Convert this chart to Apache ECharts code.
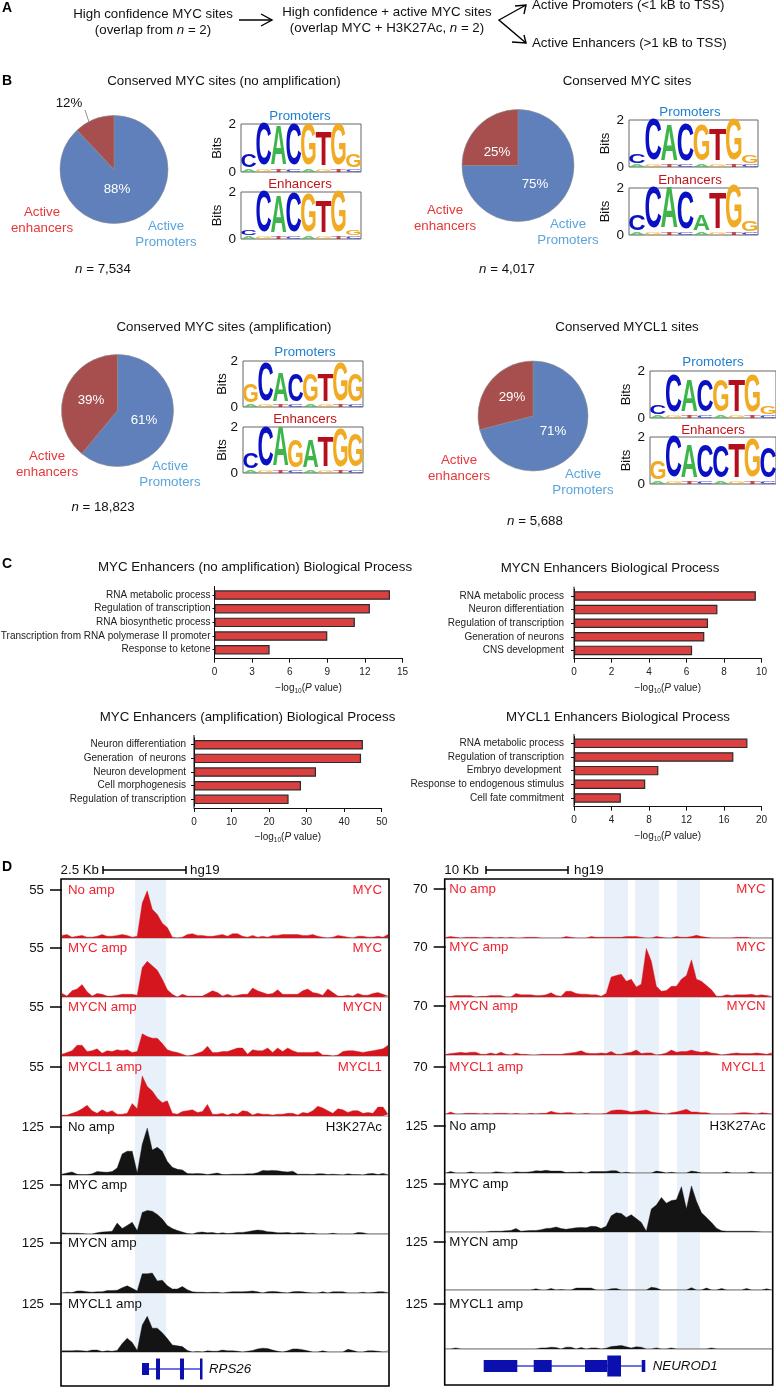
<!DOCTYPE html>
<html><head><meta charset="utf-8">
<style>html,body{margin:0;padding:0;background:#fff}#c{width:776px;height:1388px}</style>
<script src="https://cdn.jsdelivr.net/npm/echarts@6/dist/echarts.min.js"></script>
</head><body><div id="c"></div>
<script>
const FONT='"Liberation Sans",Arial,sans-serif';
// ---- Panel B: pies
const pieNames=['Active Promoters','Active enhancers'];
const pieA=[88,12], pieB=[75,25], pieC=[61,39], pieD=[71,29];
// ---- Panel B: sequence logos (letters and total bits per position)
const logoLetters=['CCACGTGG','CCACGTGG','CCACGTGG','CCACATGG','GCACGTGG','CCAGATGG','CCACGTGG','GCACCTGC'];
const logoBits=[
 [0.6,1.85,1.75,1.8,1.8,1.5,1.8,0.6],
 [0.22,1.85,1.7,1.8,1.75,1.45,1.85,0.25],
 [0.4,1.85,1.6,1.7,1.6,1.45,1.85,0.35],
 [0.7,1.85,1.85,1.7,0.7,1.6,1.95,0.45],
 [0.85,1.75,1.35,1.3,1.3,1.3,1.75,1.25],
 [0.7,1.8,1.85,1.3,1.3,1.4,1.75,1.55],
 [0.4,1.7,1.45,1.45,1.45,1.45,1.7,0.35],
 [0.85,1.85,1.5,1.5,1.45,1.55,1.75,1.35]];
const logoNoise='AGTCAGTC';
// ---- Panel C: bars
const cat1=['RNA metabolic process','Regulation of transcription','RNA biosynthetic process','Transcription from RNA polymerase II promoter','Response to ketone'];
const val1=[14,12.4,11.2,9,4.4];
const cat2=['RNA metabolic process','Neuron differentiation','Regulation of transcription','Generation of neurons','CNS development'];
const val2=[9.7,7.65,7.15,6.95,6.3];
const cat3=['Neuron differentiation','Generation  of neurons','Neuron development','Cell morphogenesis','Regulation of transcription'];
const val3=[45,44.5,32.5,28.5,25.2];
const cat4=['RNA metabolic process','Regulation of transcription','Embryo development ','Response to endogenous stimulus','Cell fate commitment'];
const val4=[18.5,17,9,7.6,5];
// ---- Panel D: signal tracks, left locus (RPS26)
const L1=[3,4,1,2,3,1,1,2,4,2,2,3,4,3,1,2,40,54,33,27,17,12,1,0,1,4,5,3,3,2,2,3,4,2,5,5,2,1,3,1,2,1,3,3,4,4,4,4,3,3,4,2,1,0,1,3,2,1,0,2,2,1,1,2,1,4];
const L2=[4,1,7,9,14,6,1,4,3,1,1,2,3,3,3,2,33,40,35,30,20,8,3,0,3,1,1,1,1,4,7,5,1,3,1,2,3,3,10,7,5,3,4,8,3,3,3,3,7,9,5,4,2,9,5,1,1,2,1,4,2,2,4,5,3,1];
const L3=[2,4,6,12,12,5,6,8,3,6,5,7,6,7,4,5,25,22,20,20,14,7,5,4,2,0,1,3,5,11,4,4,5,5,7,9,9,2,7,6,6,9,4,9,5,9,6,4,4,4,4,5,1,1,0,1,5,6,6,5,4,5,6,7,8,12];
const L4=[1,1,3,5,8,12,6,3,7,4,6,2,2,3,14,8,45,33,28,20,15,17,3,2,5,6,7,4,5,13,2,2,3,1,3,2,6,5,1,3,2,2,1,2,2,3,3,1,4,3,6,11,9,6,3,8,7,4,6,6,3,4,3,10,10,2];
const L5=[2,5,8,2,1,1,3,9,8,7,9,18,55,62,62,5,80,122,65,72,62,35,20,15,13,4,3,4,3,1,3,5,1,1,2,2,2,3,3,6,12,11,12,11,9,8,10,2,2,2,1,3,3,1,2,1,0,3,1,1,0,3,4,1,4,1];
const L6=[3,2,2,2,1,0,0,3,5,6,7,28,14,22,30,8,55,60,58,50,38,22,14,9,5,1,0,4,5,3,4,1,3,1,2,4,4,6,8,10,9,6,5,3,3,4,2,3,3,1,2,0,0,0,2,0,0,0,0,4,3,0,0,0,0,0];
const L7=[0,2,1,5,5,3,2,3,3,6,6,7,13,18,12,5,48,48,50,30,32,18,10,10,16,8,3,2,2,1,2,2,0,2,3,3,3,4,5,3,0,3,4,3,1,0,3,4,3,1,0,0,3,0,3,3,3,0,0,0,2,0,1,3,3,1];
const L8=[3,3,3,4,3,2,5,5,1,3,2,4,22,36,25,4,70,93,62,62,50,35,18,16,14,4,0,1,0,3,2,2,5,3,3,2,0,2,4,8,10,9,5,2,0,3,8,8,6,3,0,0,3,0,0,0,0,7,4,0,0,3,3,2,0,3];
// ---- Panel D: signal tracks, right locus (NEUROD1)
const R1=[1,2,1,0,1,1,1,0,1,1,0,1,0,1,0,0,1,1,1,0,0,0,0,0,2,1,0,0,0,2,1,1,1,1,1,1,2,2,2,1,0,0,2,1,0,0,2,1,1,2,4,2,1,0,0,0,0,0,1,1,1,0,0,0,0,0];
const R2=[1,1,2,2,2,2,0,1,1,2,2,2,0,0,5,3,3,3,2,2,3,6,2,1,8,8,5,4,4,3,3,1,5,28,30,32,22,25,14,18,68,50,15,8,9,15,15,25,30,52,25,22,16,10,1,1,3,2,3,3,3,4,2,3,2,1];
const R3=[1,2,3,4,3,4,4,1,1,3,1,4,1,0,3,1,1,0,0,1,1,1,1,1,2,3,4,6,3,2,2,3,2,5,1,1,3,4,7,2,3,3,0,1,3,7,4,5,5,7,5,4,5,3,2,0,1,2,3,2,2,2,3,2,1,3];
const R4=[0,3,0,0,1,1,1,0,1,0,1,1,1,0,1,0,0,1,0,1,1,4,2,1,2,2,0,0,1,0,0,0,1,5,6,6,5,3,4,5,6,3,2,1,0,2,3,5,7,3,3,2,2,0,0,0,0,0,1,2,2,1,0,2,1,0];
const R5=[0,4,0,0,0,3,0,0,0,0,3,2,0,0,3,2,2,3,6,5,7,5,5,5,1,2,2,3,0,4,4,4,4,6,6,0,2,0,0,0,0,0,5,3,0,2,0,0,0,5,3,0,0,0,0,0,3,0,0,0,0,3,0,0,0,0];
const R6=[0,0,0,0,0,0,0,0,0,2,2,2,3,4,9,2,3,4,4,6,9,10,13,9,7,9,11,12,11,15,14,9,15,42,50,48,38,45,35,25,2,60,70,90,75,82,84,118,60,120,80,50,38,25,10,3,2,2,2,2,2,2,1,0,0,0];
const R7=[0,0,0,0,0,0,0,0,0,0,0,0,0,0,0,0,0,0,3,0,0,4,0,1,0,0,5,5,5,5,0,0,0,3,4,0,0,0,0,0,0,7,5,0,0,0,0,0,0,6,0,0,5,0,0,4,0,0,0,0,4,0,0,0,3,0];
const R8=[0,0,3,0,0,0,0,0,0,0,0,0,0,0,0,0,0,0,0,3,3,5,4,0,5,5,0,4,0,3,3,0,2,7,8,10,6,3,6,5,0,0,3,0,0,3,0,0,0,0,0,0,0,3,0,0,0,0,0,0,0,0,0,0,0,0];
const trackLeft=[L1,L2,L3,L4,L5,L6,L7,L8], trackRight=[R1,R2,R3,R4,R5,R6,R7,R8];
const trackNames=['No amp','MYC amp','MYCN amp','MYCL1 amp','No amp','MYC amp','MYCN amp','MYCL1 amp'];
const trackFactors=['MYC','MYC','MYCN','MYCL1','H3K27Ac','','',''];
const leftScale=[55,55,55,55,125,125,125,125], rightScale=[70,70,70,70,125,125,125,125];
// ---- gene models: [start,end,height]
const geneL=[[81,88,12],[95,99,21],[119,123,21],[139,141.5,21]], intronL=[81,141];
const geneR=[[39,72.6,12],[89,107,12],[140.3,162.6,12],[162.6,176.3,21],[197,200.6,12]], intronR=[72,197];

const RED='#e5383b', LBLUE='#5aa5dc', TRED='#ee2430';
const G=[]; // graphics
function T(text,x,y,o){o=o||{};const fs=o.s||13.3;G.push({type:'text',x,y,z:o.z||20,rotation:o.rot||0,style:{text,fill:o.c||'#111',fontSize:fs,fontFamily:FONT,
  fontWeight:o.b?'bold':'normal',fontStyle:o.i?'italic':'normal',align:o.a||'center',verticalAlign:'middle',
  rich:{i:{fontStyle:'italic',fontSize:fs,fontFamily:FONT,fill:o.c||'#111'}}}});}
function PL(pts,o){o=o||{};G.push({type:'polyline',z:o.z||20,shape:{points:pts},style:{stroke:o.c||'#000',lineWidth:o.w||1.4,fill:null}});}

// Panel letters
[['A',8],['B',81],['C',564],['D',867]].forEach(a=>T(a[0],7,a[1],{b:1,s:14,c:'#000'}));
// Panel A
T('High confidence MYC sites',153,14);T('(overlap from {i|n} = 2)',153,30);
PL([[239,20],[272,20]]);PL([[261,14],[272,20],[261,26]]);
T('High confidence + active MYC sites',387,12);T('(overlap MYC + H3K27Ac, {i|n} = 2)',387,28);
PL([[526,5],[499,20],[526,43]]);PL([[515,6],[526,5],[524,14]]);PL([[512,42],[526,43],[524,35]]);
T('Active Promoters (<1 kB to TSS)',532,5,{a:'left'});T('Active Enhancers (>1 kB to TSS)',532,43,{a:'left'});
// Panel B text
T('Conserved MYC sites (no amplification)',224,81);T('Conserved MYC sites',627,81);
T('Conserved MYC sites (amplification)',224,327);T('Conserved MYCL1 sites',627,327);
function pieText(e,p,n){T('Active',e[0],e[1],{c:RED});T('enhancers',e[0],e[1]+16,{c:RED});
  T('Active',p[0],p[1],{c:LBLUE});T('Promoters',p[0],p[1]+16,{c:LBLUE});T('{i|n} = '+n[2],n[0],n[1]);}
pieText([42,212],[166,226],[103,269,'7,534']);
pieText([445,210],[568,224],[507,269,'4,017']);
pieText([47,456],[170,466],[103,507,'18,823']);
pieText([459,460],[583,474],[535,521,'5,688']);
PL([[85,110],[89,122]],{c:'#777',w:0.8});

const grids=[],xA=[],yA=[],series=[];
function pie(values,cx,cy,r,labels,dark){
  series.push({type:'pie',center:[cx,cy],radius:r,startAngle:90,clockwise:true,silent:true,animation:false,
    data:values.map((v,i)=>({value:v,name:pieNames[i],itemStyle:{color:i?'#a64f4e':'#5f80ba',borderColor:'#8d8d8d',borderWidth:0.6}})),
    label:{show:true,position:'inner',formatter:'{c}%',color:'#fff',fontSize:13.3,fontFamily:FONT},labelLine:{show:false},
    labelLayout:p=>({x:labels[p.dataIndex][0],y:labels[p.dataIndex][1],align:'center',verticalAlign:'middle'}),
    emphasis:{disabled:true}});
}
pie(pieA,114,169.5,54,[[117,189],[69,103]]);
pie(pieB,518,165.5,56,[[535,184],[497,152]]);
pie(pieC,117.5,410.5,56,[[144,420],[91,400]]);
pie(pieD,533,416,55,[[553,431],[512,397]]);
// 12% sits outside the pie, in black
series[0].data[1].label={color:'#111'};

// Logos
const LC={A:'#3db54a',C:'#0a10c4',G:'#f0ab22',T:'#b3101c'};
const LW={A:0.68,C:0.68,G:0.72,T:0.58};
function logo(idx,left,top,w,h,bitsX){
  const g=grids.length;
  grids.push({left,top,width:w,height:h,outerBoundsMode:'none',show:true,borderColor:'#666',borderWidth:1,backgroundColor:'#fff'});
  xA.push({gridIndex:g,type:'value',min:-0.5,max:7.5,show:false});
  yA.push({gridIndex:g,type:'value',min:0,max:2,interval:2,axisLine:{show:false},axisTick:{show:false},splitLine:{show:false},
    axisLabel:{fontSize:13.5,color:'#111',fontFamily:FONT,margin:5},
    name:'Bits',nameLocation:'middle',nameRotate:90,nameGap:left-bitsX-7,nameMoveOverlap:false,nameTextStyle:{fontSize:13,color:'#111',fontFamily:FONT}});
  const letters=[],data=[];
  const noiseH=0.13;
  logoLetters[idx].split('').forEach((l,i)=>{
    letters.push(logoNoise[i]);data.push([i,0,noiseH]);
    letters.push(l);data.push([i,noiseH,noiseH+logoBits[idx][i]*0.95]);
  });
  series.push({type:'custom',xAxisIndex:g,yAxisIndex:g,silent:true,animation:false,data,
    encode:{x:0,y:[1,2]},
    renderItem:(p,api)=>{
      const a=api.coord([api.value(0),api.value(1)]),b=api.coord([api.value(0),api.value(2)]);
      const cw=api.size([1,0])[0]*1.02, ht=Math.abs(a[1]-b[1]), fs=20, l=letters[p.dataIndex];
      const small=p.dataIndex%2===0;
      return {type:'text',x:(a[0]),y:(a[1]+b[1])/2,scaleX:cw/(fs*LW[l]),scaleY:ht/(fs*0.72),
        style:{text:l,fontSize:fs,fontWeight:'bold',fontFamily:FONT,align:'center',verticalAlign:'middle',fill:LC[l],opacity:small?0.75:1}};
    }});
}
function logoTitles(cx,py,ey){T('Promoters',cx,py,{c:'#1f7fcf'});T('Enhancers',cx,ey,{c:'#c2151b'});}
logo(0,241,124,120,48,217);logo(1,241,192,120,47,217);logoTitles(300,116,184);
logo(2,629,120,129,47,605);logo(3,629,188,129,47,605);logoTitles(690,112,180);
logo(4,243,361,120,46,222);logo(5,243,427,120,46,222);logoTitles(305,352,419);
logo(6,650,371,126,47,626);logo(7,650,437,126,47,626);logoTitles(713,362,430);

// Bars
function bars(cats,vals,left,right,top,spacing,axisY,topLine,max,interval,title,tx,ty,tick,margin){
  const g=grids.length,h=spacing*5;
  grids.push({left,top,width:right-left,height:h,outerBoundsMode:'none'});
  xA.push({gridIndex:g,type:'value',position:'bottom',min:0,max,interval,offset:axisY-(top+h),splitLine:{show:false},
    axisLine:{show:true,lineStyle:{color:'#111',width:1}},axisTick:{show:true,length:4,lineStyle:{color:'#111'}},
    axisLabel:{fontSize:10,color:'#222',fontFamily:FONT,margin:9},
    name:'\u2212log{s|10}({i|P} value)',nameLocation:'middle',nameGap:23,nameMoveOverlap:false,
    nameTextStyle:{fontSize:10,color:'#222',fontFamily:FONT,rich:{s:{fontSize:6.5,verticalAlign:'bottom',padding:[6,0,0,0],fontFamily:FONT,color:'#222'},i:{fontStyle:'italic',fontSize:10,fontFamily:FONT,color:'#222'}}}});
  yA.push({gridIndex:g,type:'category',inverse:true,data:cats,
    axisLine:{show:true,lineStyle:{color:'#111'}},axisTick:{show:true,length:tick,alignWithLabel:true,lineStyle:{color:'#111'}},
    axisLabel:{fontSize:10,color:'#222',fontFamily:FONT,margin,interval:0},splitLine:{show:false}});
  series.push({type:'bar',xAxisIndex:g,yAxisIndex:g,data:vals,barWidth:9.5,silent:true,animation:false,
    itemStyle:{color:'#d9403f',borderColor:'#2b2b2b',borderWidth:1.2}});
  PL([[left,topLine],[left,axisY]],{c:'#111',w:1});
  T(title,tx,ty);
}
bars(cat1,val1,214.5,402.5,588.2,13.67,658.7,586,15,3,'MYC Enhancers (no amplification) Biological Process',255,567,2,4);
bars(cat2,val2,574,761.5,589.2,13.6,658.7,586.7,10,2,'MYCN Enhancers Biological Process',610,568,3,10);
bars(cat3,val3,194,381.7,737.9,13.65,808,735,50,10,'MYC Enhancers (amplification) Biological Process',247.5,717,3,8);
bars(cat4,val4,574,761.5,736.5,13.65,806.7,734,20,4,'MYCL1 Enhancers Biological Process',618,717,3,10);

// Tracks
function tracks(data,scale,left,ticks,bases,nameX,factorX,labX){
  data.forEach((vals,k)=>{
    const g=grids.length,col=k<4?'#d5161e':'#141414';
    grids.push({left,top:ticks[k],width:326,height:bases[k]-ticks[k],outerBoundsMode:'none'});
    xA.push({gridIndex:g,type:'value',min:0,max:65,axisLine:{show:true,lineStyle:{color:'#c6c6c6',width:2}},axisTick:{show:false},axisLabel:{show:false},splitLine:{show:false}});
    yA.push({gridIndex:g,type:'value',min:0,max:scale[k],axisLine:{show:false},splitLine:{show:false},
      axisTick:{show:true,length:12,customValues:[scale[k]],lineStyle:{color:'#000',width:1.5}},
      axisLabel:{show:true,customValues:[scale[k]],margin:labX,fontSize:13.3,color:'#111',fontFamily:FONT}});
    series.push({type:'line',xAxisIndex:g,yAxisIndex:g,data:vals.map((v,i)=>[i,v]),showSymbol:false,silent:true,animation:false,
      lineStyle:{color:col,width:0.4},areaStyle:{color:col,opacity:1},clip:true});
    const c=k<4?TRED:'#111';
    T(trackNames[k],nameX,ticks[k],{c,a:'left'});
    if(trackFactors[k])T(trackFactors[k],factorX,ticks[k],{c,a:'right'});
  });
}
const lt=[890,948,1007,1067,1127,1185,1243,1304], lb=[938,997,1056,1116,1175,1234,1293,1352];
const rt=[889,947,1006,1067,1126,1184,1242,1304], rb=[938,997,1055,1114,1173,1232,1290,1349];
tracks(trackLeft,leftScale,62,lt,lb,68,382,18);
tracks(trackRight,rightScale,445.7,rt,rb,449.3,765.7,18);

// highlight bands
[[135,166,1352],[604,628,1349],[635,659,1349],[677,700,1349]].forEach(b=>G.push({type:'rect',z:0,shape:{x:b[0],y:879,width:b[1]-b[0],height:b[2]-879},style:{fill:'#e8f0fa'}}));
// frames
[[61,879,328,507],[444.7,879,328,506]].forEach(f=>G.push({type:'rect',z:30,shape:{x:f[0],y:f[1],width:f[2],height:f[3]},style:{fill:null,stroke:'#000',lineWidth:1.6}}));
// scale bars
function scaleBar(label,lx,x0,x1,hx){T(label,lx,870,{a:'right'});PL([[x0,870],[x1,870]],{w:1.5});PL([[x0,866],[x0,874]],{w:1.5});PL([[x1,866],[x1,874]],{w:1.5});T('hg19',hx,870,{a:'left'});}
scaleBar('2.5 Kb',99,103,186,190);
scaleBar('10 Kb',479,486,568,574);

// gene models
function gene(exons,intron,left,cy,name,nx){
  const g=grids.length,h=26;
  grids.push({left,top:cy-h/2,width:328,height:h,outerBoundsMode:'none'});
  xA.push({gridIndex:g,type:'value',min:0,max:328,show:false});
  yA.push({gridIndex:g,type:'value',min:-13,max:13,show:false});
  series.push({type:'line',z:1,xAxisIndex:g,yAxisIndex:g,data:[[intron[0],0],[intron[1],0]],showSymbol:false,silent:true,animation:false,lineStyle:{color:'#3c44d8',width:1.3}});
  series.push({type:'custom',z:3,xAxisIndex:g,yAxisIndex:g,silent:true,animation:false,data:exons,encode:{x:[0,1],y:2},
    renderItem:(p,api)=>{
      const a=api.coord([api.value(0),0]),b=api.coord([api.value(1),0]),hh=api.value(2);
      return {type:'rect',shape:{x:a[0],y:a[1]-hh/2,width:b[0]-a[0],height:hh},style:{fill:'#0a0fae'}};
    }});
  T(name,nx,cy,{i:1,a:'left'});
}
gene(geneL,intronL,61,1369,'RPS26',209);
gene(geneR,intronR,444.7,1366,'NEUROD1',652.7);

const chart=echarts.init(document.getElementById('c'),null,{renderer:'canvas',width:776,height:1388});
chart.setOption({animation:false,backgroundColor:'#fff',textStyle:{fontFamily:FONT},grid:grids,xAxis:xA,yAxis:yA,series,graphic:{elements:G}});
</script></body></html>
